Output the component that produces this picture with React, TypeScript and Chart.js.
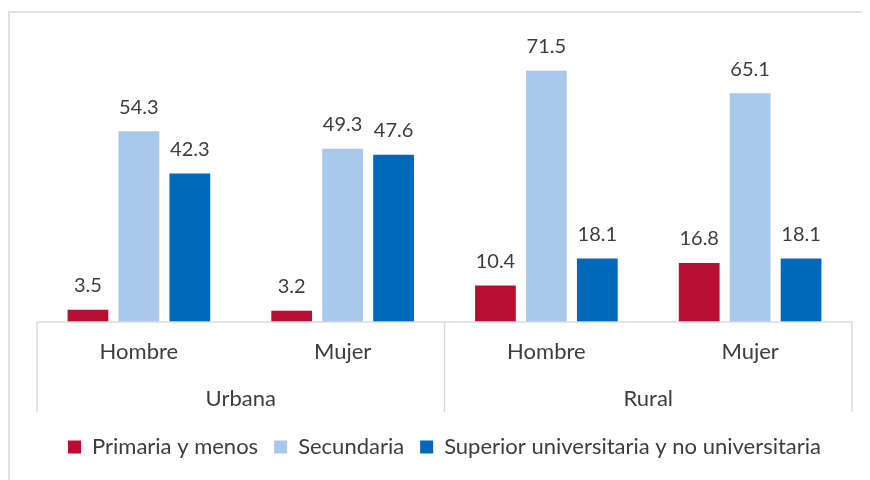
import React, { useEffect, useRef } from "react";
import { Chart, registerables } from "chart.js";

Chart.register(...registerables);

const areas = ["Urbana", "Rural"];
const sexes = ["Hombre", "Mujer", "Hombre", "Mujer"];
const seriesNames = [
  "Primaria y menos",
  "Secundaria",
  "Superior universitaria y no universitaria",
];
const primaria = [3.5, 3.2, 10.4, 16.8];
const secundaria = [54.3, 49.3, 71.5, 65.1];
const superior = [42.3, 47.6, 18.1, 18.1];
const colors = ["#b90e31", "#a8c8ec", "#0068b9"];

const FONT = "Lato, 'Open Sans', sans-serif";
const TEXT = "#3d3d3d";
const LINE = "#d9ddd9";

const decor = {
  id: "decor",
  beforeDraw(chart: any) {
    const ctx = chart.ctx;
    ctx.save();
    ctx.strokeStyle = "#dfe3df";
    ctx.lineWidth = 2;
    ctx.beginPath();
    ctx.moveTo(1, chart.height + 5);
    ctx.lineTo(1, 4);
    ctx.lineTo(chart.width + 5, 4);
    ctx.stroke();
    ctx.restore();
  },
  afterDatasetsDraw(chart: any) {
    const ctx = chart.ctx;
    const x = chart.scales.x;
    const area = chart.chartArea;
    ctx.save();
    ctx.font = `20px ${FONT}`;
    ctx.fillStyle = TEXT;
    ctx.textAlign = "center";
    ctx.textBaseline = "middle";
    chart.data.datasets.forEach((ds: any, i: number) => {
      const meta = chart.getDatasetMeta(i);
      meta.data.forEach((bar: any, j: number) => {
        ctx.fillText(Number(ds.data[j]).toFixed(1), bar.x, bar.y - 24);
      });
    });
    ctx.strokeStyle = LINE;
    ctx.lineWidth = 1.5;
    const y0 = area.bottom;
    const y1 = area.bottom + 90;
    ctx.beginPath();
    ctx.moveTo(area.left, y0);
    ctx.lineTo(area.right, y0);
    const mid = (x.getPixelForValue(1) + x.getPixelForValue(2)) / 2;
    [area.left, mid, area.right].forEach((bx: number) => {
      ctx.moveTo(bx, y0);
      ctx.lineTo(bx, y1);
    });
    ctx.stroke();
    ctx.font = `22px ${FONT}`;
    areas.forEach((a, k) => {
      const cx = (x.getPixelForValue(2 * k) + x.getPixelForValue(2 * k + 1)) / 2;
      ctx.fillText(a, cx, area.bottom + 77);
    });
    ctx.restore();
  },
};

export default function App() {
  const ref = useRef<HTMLCanvasElement | null>(null);
  useEffect(() => {
    if (!ref.current) return;
    const chart = new Chart(ref.current, {
      type: "bar",
      data: {
        labels: sexes,
        datasets: [
          { label: seriesNames[0], data: primaria, backgroundColor: colors[0] },
          { label: seriesNames[1], data: secundaria, backgroundColor: colors[1] },
          { label: seriesNames[2], data: superior, backgroundColor: colors[2] },
        ],
      },
      options: {
        responsive: true,
        maintainAspectRatio: false,
        animation: false,
        layout: { padding: { left: 29, right: 18, top: 33, bottom: 12 } },
        datasets: { bar: { barPercentage: 0.8, categoryPercentage: 0.75 } },
        scales: {
          x: {
            grid: { display: false },
            border: { display: false },
            ticks: {
              font: { family: FONT, size: 22 },
              color: TEXT,
              padding: 9,
              maxRotation: 0,
              autoSkip: false,
            },
            afterFit: (s: any) => {
              s.height = 98;
            },
          },
          y: { display: false, min: 0, max: 80 },
        },
        plugins: {
          legend: {
            position: "bottom",
            labels: {
              boxWidth: 13,
              boxHeight: 13,
              padding: 16,
              font: { family: FONT, size: 22 },
              color: TEXT,
            },
          },
          tooltip: { enabled: false },
        },
      } as any,
      plugins: [decor],
    });
    return () => chart.destroy();
  }, []);
  return (
    <div style={{ width: 862, height: 472, position: "relative" }}>
      <canvas ref={ref} />
    </div>
  );
}
